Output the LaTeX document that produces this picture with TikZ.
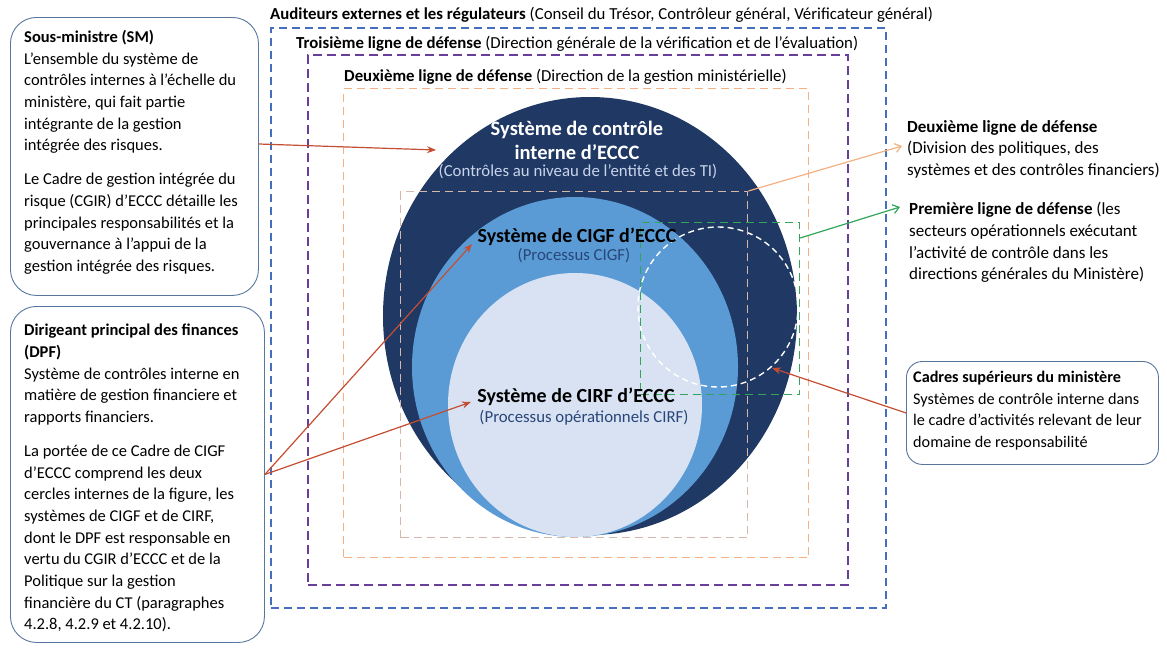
\documentclass[tikz,border=0pt]{standalone}
\usepackage{fontspec}
\setmainfont{Carlito}
\usetikzlibrary{arrows.meta}
\definecolor{navy}{RGB}{31,56,100}
\definecolor{midblue}{RGB}{91,155,213}
\definecolor{paleblue}{RGB}{216,226,243}
\definecolor{subwhite}{RGB}{200,212,234}
\definecolor{boxline}{RGB}{88,118,158}
\definecolor{outerblue}{RGB}{70,110,190}
\definecolor{purpleline}{RGB}{105,62,155}
\definecolor{peach}{RGB}{244,177,131}
\definecolor{tanline}{RGB}{214,184,170}
\definecolor{greenline}{RGB}{50,165,90}
\definecolor{redarrow}{RGB}{196,78,50}
\definecolor{subblue}{RGB}{40,70,120}
\newcommand\bxfont{\fontsize{16.5}{21.7}\selectfont}
\newcommand\rtfont{\fontsize{17}{21.7}\selectfont}
\newcommand\cadfont{\fontsize{16.2}{21.7}\selectfont}
\begin{document}
\begin{tikzpicture}[x=1pt,y=-1pt,
  infobox/.style={draw=boxline, line width=0.9pt, rounded corners=26pt, anchor=north west, inner sep=0pt},
  bodytext/.style={anchor=north west, align=left, inner sep=0pt, font=\bxfont},
  toplabel/.style={anchor=west, inner sep=0pt, font=\fontsize{16.8}{20}\selectfont},
  redarr/.style={draw=redarrow, line width=1.2pt, -{Stealth[length=9pt,width=7pt]}},
  openarr/.style={line width=1.2pt, -{Straight Barb[length=6pt,width=9pt]}},
]
\useasboundingbox (0,0) rectangle (1167,648);
\fill[white] (0,0) rectangle (1167,648);

% dashed frames
\node[draw=outerblue, dash pattern=on 8pt off 5pt, line width=1.5pt, minimum width=615pt, minimum height=580pt, anchor=north west, inner sep=0pt] (auditframe) at (270,27) {};
\node[draw=purpleline, dash pattern=on 9pt off 5pt, line width=1.8pt, minimum width=540pt, minimum height=530pt, anchor=north west, inner sep=0pt] (thirdframe) at (307,54) {};
\node[draw=peach, dash pattern=on 8pt off 5pt, line width=1.1pt, minimum width=465pt, minimum height=469pt, anchor=north west, inner sep=0pt] (secondframe) at (343,88) {};

% circles
\fill[navy] (590,316) ellipse [x radius=207pt, y radius=219pt];
\fill[midblue] (575,367) ellipse [x radius=163pt, y radius=170pt];
\fill[paleblue] (575,405) ellipse [x radius=127pt, y radius=132pt];
\node[circle, draw=white, dash pattern=on 6pt off 4pt, line width=1.4pt, minimum size=160pt, inner sep=0pt] (firstcircle) at (718,307) {};

% inner frames
\node[draw=tanline, dash pattern=on 8pt off 5pt, line width=1.4pt, minimum width=347pt, minimum height=346pt, anchor=north west, inner sep=0pt] (innerframe) at (400,191) {};
\node[draw=greenline, dash pattern=on 8pt off 5pt, line width=1.2pt, minimum width=159pt, minimum height=172pt, anchor=north west, inner sep=0pt] (greenframe) at (640,222) {};

% top labels
\node[toplabel] (auditlbl) at (270,15) {\textbf{Auditeurs externes et les régulateurs} (Conseil du Trésor, Contrôleur général, Vérificateur général)};
\node[toplabel] (thirdlbl) at (296,44) {\textbf{Troisième ligne de défense} (Direction générale de la vérification et de l’évaluation)};
\node[toplabel] (secondlbl) at (344,77) {\textbf{Deuxième ligne de défense} (Direction de la gestion ministérielle)};

% circle texts
\node[align=center, text=white, font=\fontsize{20.5}{24}\selectfont\bfseries, inner sep=0pt] (ictitle) at (577,140) {Système de contrôle\\interne d’ECCC};
\node[text=subwhite, font=\fontsize{16.8}{20}\selectfont, inner sep=0pt] (icsub) at (578,172) {(Contrôles au niveau de l’entité et des TI)};
\node[font=\fontsize{20}{24}\selectfont\bfseries, inner sep=0pt] (cigftitle) at (577,237) {Système de CIGF d’ECCC};
\node[text=subblue, font=\fontsize{16.8}{20}\selectfont, inner sep=0pt] (cigfsub) at (574,256) {(Processus CIGF)};
\node[font=\fontsize{20}{24}\selectfont\bfseries, inner sep=0pt] (cirftitle) at (576,397) {Système de CIRF d’ECCC};
\node[text=subblue, font=\fontsize{16.8}{20}\selectfont, inner sep=0pt] (cirfsub) at (584,418) {(Processus opérationnels CIRF)};

% left boxes
\node[infobox, minimum width=248pt, minimum height=278pt] (smbox) at (10,17) {};
\node[bodytext] (smtext) at (24,30) {\textbf{Sous-ministre (SM)}\\
L’ensemble du système de\\
contrôles internes à l’échelle du\\
ministère, qui fait partie\\
intégrante de la gestion\\
intégrée des risques.\\[12pt]
Le Cadre de gestion intégrée du\\
risque (CGIR) d'ECCC détaille les\\
principales responsabilités et la\\
gouvernance à l'appui de la\\
gestion intégrée des risques.};

\node[infobox, minimum width=254pt, minimum height=336pt] (dpfbox) at (10,306) {};
\node[bodytext] (dpftext) at (24,324) {\textbf{Dirigeant principal des finances}\\
\textbf{(DPF)}\\
Système de contrôles interne en\\
matière de gestion financiere et\\
rapports financiers.\\[12pt]
La portée de ce Cadre de CIGF\\
d'ECCC comprend les deux\\
cercles internes de la figure, les\\
systèmes de CIGF et de CIRF,\\
dont le DPF est responsable en\\
vertu du CGIR d'ECCC et de la\\
Politique sur la gestion\\
financière du CT (paragraphes\\
4.2.8, 4.2.9 et 4.2.10).};

% right texts
\node[bodytext, font=\rtfont] (secondright) at (907,120) {\textbf{Deuxième ligne de défense}\\
(Division des politiques, des\\
systèmes et des contrôles financiers)};
\node[bodytext, font=\rtfont] (firstright) at (909,202) {\textbf{Première ligne de défense} (les\\
secteurs opérationnels exécutant\\
l’activité de contrôle dans les\\
directions générales du Ministère)};
\node[infobox, rounded corners=16pt, minimum width=252pt, minimum height=103pt] (cadresbox) at (906,361) {};
\node[bodytext, font=\cadfont] (cadrestext) at (913,371) {\textbf{Cadres supérieurs du ministère}\\
Systèmes de contrôle interne dans\\
le cadre d’activités relevant de leur\\
domaine de responsabilité};

% arrow end points
\coordinate (smstart) at (smbox.east |- 0,144);
\coordinate (smtip) at (436,150);
\coordinate (cigftip) at (472,244);
\coordinate (cirftip) at (471,402);
\coordinate (peachtip) at (902,146);
\coordinate (greenstart) at (greenframe.east |- 0,238);
\coordinate (greentip) at (900,207);
\coordinate (cadrestip) at (772,368);

% connectors
\draw[redarr] (smstart) -- (smtip);
\draw[redarr] (dpfbox.east) -- (cigftip);
\draw[redarr] (dpfbox.east) -- (cirftip);
\draw[redarr] (cadresbox.west) -- (cadrestip);
\draw[openarr, draw=peach] (innerframe.north east) -- (peachtip);
\draw[openarr, draw=greenline] (greenstart) -- (greentip);
\end{tikzpicture}
\end{document}
